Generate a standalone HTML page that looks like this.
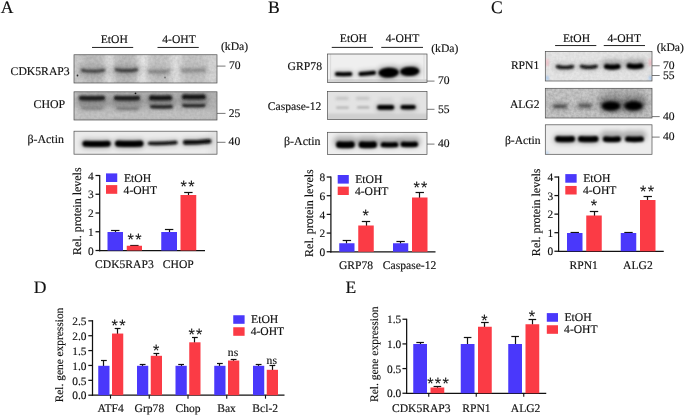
<!DOCTYPE html>
<html><head><meta charset="utf-8"><title>Figure</title>
<style>
html,body{margin:0;padding:0;background:#fff;}
body{width:685px;height:416px;overflow:hidden;}
svg{display:block;font-family:"Liberation Serif",serif;fill:#111;}
text{stroke:#111;stroke-width:0.15px;text-rendering:geometricPrecision;}
</style></head><body>
<svg width="685" height="416" viewBox="0 0 685 416">
<defs>
<filter id="b0_5" filterUnits="userSpaceOnUse" x="0" y="0" width="685" height="416"><feGaussianBlur stdDeviation="0.5"/></filter>
<filter id="b0_7" filterUnits="userSpaceOnUse" x="0" y="0" width="685" height="416"><feGaussianBlur stdDeviation="0.7"/></filter>
<filter id="b1_0" filterUnits="userSpaceOnUse" x="0" y="0" width="685" height="416"><feGaussianBlur stdDeviation="1.0"/></filter>
<filter id="b1_1" filterUnits="userSpaceOnUse" x="0" y="0" width="685" height="416"><feGaussianBlur stdDeviation="1.1"/></filter>
<filter id="b1_2" filterUnits="userSpaceOnUse" x="0" y="0" width="685" height="416"><feGaussianBlur stdDeviation="1.2"/></filter>
<filter id="b1_3" filterUnits="userSpaceOnUse" x="0" y="0" width="685" height="416"><feGaussianBlur stdDeviation="1.3"/></filter>
<filter id="b1_4" filterUnits="userSpaceOnUse" x="0" y="0" width="685" height="416"><feGaussianBlur stdDeviation="1.4"/></filter>
<filter id="b1_5" filterUnits="userSpaceOnUse" x="0" y="0" width="685" height="416"><feGaussianBlur stdDeviation="1.5"/></filter>
<filter id="b1_6" filterUnits="userSpaceOnUse" x="0" y="0" width="685" height="416"><feGaussianBlur stdDeviation="1.6"/></filter>
<filter id="b1_7" filterUnits="userSpaceOnUse" x="0" y="0" width="685" height="416"><feGaussianBlur stdDeviation="1.7"/></filter>
<filter id="b1_8" filterUnits="userSpaceOnUse" x="0" y="0" width="685" height="416"><feGaussianBlur stdDeviation="1.8"/></filter>
<filter id="b2_0" filterUnits="userSpaceOnUse" x="0" y="0" width="685" height="416"><feGaussianBlur stdDeviation="2.0"/></filter>
<filter id="b2_5" filterUnits="userSpaceOnUse" x="0" y="0" width="685" height="416"><feGaussianBlur stdDeviation="2.5"/></filter>
<filter id="b3_0" filterUnits="userSpaceOnUse" x="0" y="0" width="685" height="416"><feGaussianBlur stdDeviation="3.0"/></filter>
<filter id="b4_0" filterUnits="userSpaceOnUse" x="0" y="0" width="685" height="416"><feGaussianBlur stdDeviation="4.0"/></filter>
<filter id="noise" x="0" y="0" width="100%" height="100%"><feTurbulence type="fractalNoise" baseFrequency="0.35" numOctaves="2" seed="3"/><feColorMatrix type="matrix" values="0 0 0 0 0  0 0 0 0 0  0 0 0 0 0  1.6 0 0 0 -0.45"/></filter>
</defs>
<rect x="0" y="0" width="685" height="416" fill="#fff"/>
<text x="0.65" y="12.8" font-size="17.6" text-anchor="start">A</text>
<text x="267.9" y="12.9" font-size="17.6" text-anchor="start">B</text>
<text x="490.9" y="12.9" font-size="17.6" text-anchor="start">C</text>
<text x="33.75" y="292.6" font-size="17.6" text-anchor="start">D</text>
<text x="345.6" y="292.6" font-size="17.6" text-anchor="start">E</text>
<text x="114.25" y="43" font-size="11.6" text-anchor="middle">EtOH</text>
<text x="179" y="43" font-size="11.6" text-anchor="middle">4-OHT</text>
<line x1="92" y1="47.45" x2="133.2" y2="47.45" stroke="#222" stroke-width="1.0"/>
<line x1="157.5" y1="47.45" x2="198.75" y2="47.45" stroke="#222" stroke-width="1.0"/>
<text x="221" y="50" font-size="11.6" text-anchor="start">(kDa)</text>
<text x="10.6" y="74.8" font-size="11.7" text-anchor="start">CDK5RAP3</text>
<text x="33.5" y="108.1" font-size="11.9" text-anchor="start">CHOP</text>
<text x="27.5" y="143.1" font-size="11.9" text-anchor="start">β-Actin</text>
<clipPath id="c1"><rect x="74" y="54.75" width="143" height="28.25"/></clipPath>
<g clip-path="url(#c1)">
<rect x="74" y="54.75" width="143" height="28.25" fill="#cdcdcd"/>
<rect x="105.0" y="50" width="8" height="38" fill="#e4e4e4" opacity="0.95" filter="url(#b3_0)"/><rect x="137.5" y="50" width="10" height="38" fill="#e8e8e8" opacity="1" filter="url(#b3_0)"/><rect x="171.5" y="50" width="9" height="38" fill="#e4e4e4" opacity="0.95" filter="url(#b3_0)"/><rect x="208.0" y="50" width="8" height="38" fill="#dcdcdc" opacity="0.8" filter="url(#b3_0)"/><rect x="83.0" y="50" width="20" height="38" fill="#b4b4b4" opacity="0.6" filter="url(#b3_0)"/><rect x="116.0" y="50" width="20" height="38" fill="#b4b4b4" opacity="0.6" filter="url(#b3_0)"/><rect x="151.0" y="50" width="16" height="38" fill="#bcbcbc" opacity="0.4" filter="url(#b3_0)"/><rect x="184.0" y="50" width="18" height="38" fill="#bcbcbc" opacity="0.4" filter="url(#b3_0)"/><circle cx="77.5" cy="75.5" r="0.9" fill="#333" filter="url(#b0_5)"/><circle cx="165" cy="77.5" r="0.9" fill="#777" filter="url(#b0_5)"/>
<path d="M82.50,70.35 Q93.00,72.30 103.50,70.35" transform="translate(0,0.0)" fill="none" stroke="#3c3c3c" stroke-width="9.0" stroke-linecap="round" opacity="0.266" filter="url(#b2_5)"/>
<path d="M82.50,70.35 Q93.00,72.30 103.50,70.35" fill="none" stroke="#3c3c3c" stroke-width="3.0" stroke-linecap="round" opacity="0.95" filter="url(#b1_1)"/>
<path d="M116.60,69.75 Q126.50,71.70 136.40,69.75" transform="translate(0,0.0)" fill="none" stroke="#383838" stroke-width="9.2" stroke-linecap="round" opacity="0.266" filter="url(#b2_5)"/>
<path d="M116.60,69.75 Q126.50,71.70 136.40,69.75" fill="none" stroke="#383838" stroke-width="3.2" stroke-linecap="round" opacity="0.95" filter="url(#b1_1)"/>
<path d="M149.40,71.20 Q158.75,72.40 168.10,71.20" transform="translate(0,0.0)" fill="none" stroke="#6e6e6e" stroke-width="7.8" stroke-linecap="round" opacity="0.22400000000000003" filter="url(#b2_5)"/>
<path d="M149.40,71.20 Q158.75,72.40 168.10,71.20" fill="none" stroke="#6e6e6e" stroke-width="2.8" stroke-linecap="round" opacity="0.8" filter="url(#b1_5)"/>
<path d="M182.30,70.10 Q193.50,71.00 204.70,70.10" transform="translate(0,0.0)" fill="none" stroke="#767676" stroke-width="7.6" stroke-linecap="round" opacity="0.21000000000000002" filter="url(#b2_5)"/>
<path d="M182.30,70.10 Q193.50,71.00 204.70,70.10" fill="none" stroke="#767676" stroke-width="2.6" stroke-linecap="round" opacity="0.75" filter="url(#b1_5)"/>
<rect x="74" y="54.75" width="143" height="28.25" filter="url(#noise)" opacity="0.09"/>
</g>
<rect x="74" y="54.75" width="143" height="28.25" fill="none" stroke="#4a4a4a" stroke-width="0.7"/>
<clipPath id="c2"><rect x="74" y="91.8" width="143" height="28.200000000000003"/></clipPath>
<g clip-path="url(#c2)">
<rect x="74" y="91.8" width="143" height="28.2" fill="#b4b4b4"/>
<rect x="74" y="111" width="143" height="9" fill="#cfcfcf" opacity="0.7" filter="url(#b3_0)"/><rect x="72.5" y="88" width="5" height="36" fill="#d8d8d8" opacity="0.8" filter="url(#b3_0)"/><circle cx="135.5" cy="93.3" r="0.9" fill="#111"/>
<path d="M81.30,98.05 Q92.00,98.50 102.70,98.05" transform="translate(0,2.5)" fill="none" stroke="#1a1a1a" stroke-width="10.6" stroke-linecap="round" opacity="0.28" filter="url(#b2_5)"/>
<path d="M81.30,98.05 Q92.00,98.50 102.70,98.05" fill="none" stroke="#1a1a1a" stroke-width="4.6" stroke-linecap="round" opacity="1" filter="url(#b1_2)"/>
<path d="M116.30,98.05 Q127.00,98.50 137.70,98.05" transform="translate(0,2.5)" fill="none" stroke="#1a1a1a" stroke-width="10.6" stroke-linecap="round" opacity="0.28" filter="url(#b2_5)"/>
<path d="M116.30,98.05 Q127.00,98.50 137.70,98.05" fill="none" stroke="#1a1a1a" stroke-width="4.6" stroke-linecap="round" opacity="1" filter="url(#b1_2)"/>
<path d="M151.50,97.85 Q160.50,98.30 169.50,97.85" transform="translate(0,3)" fill="none" stroke="#141414" stroke-width="11.0" stroke-linecap="round" opacity="0.28" filter="url(#b2_5)"/>
<path d="M151.50,97.85 Q160.50,98.30 169.50,97.85" fill="none" stroke="#141414" stroke-width="5.0" stroke-linecap="round" opacity="1" filter="url(#b1_2)"/>
<path d="M184.50,96.85 Q193.85,97.30 203.20,96.85" transform="translate(0,3)" fill="none" stroke="#141414" stroke-width="11.0" stroke-linecap="round" opacity="0.28" filter="url(#b2_5)"/>
<path d="M184.50,96.85 Q193.85,97.30 203.20,96.85" fill="none" stroke="#141414" stroke-width="5.0" stroke-linecap="round" opacity="1" filter="url(#b1_2)"/>
<path d="M82.30,108.20 Q92.00,108.20 101.70,108.20" fill="none" stroke="#6a6a6a" stroke-width="2.6" stroke-linecap="round" opacity="0.75" filter="url(#b1_4)"/>
<path d="M117.40,108.60 Q127.50,108.60 137.60,108.60" fill="none" stroke="#606060" stroke-width="2.8" stroke-linecap="round" opacity="0.8" filter="url(#b1_4)"/>
<path d="M151.80,106.65 Q161.50,107.10 171.20,106.65" fill="none" stroke="#2a2a2a" stroke-width="3.6" stroke-linecap="round" opacity="1" filter="url(#b1_2)"/>
<path d="M183.80,105.45 Q193.85,105.90 203.90,105.45" fill="none" stroke="#2a2a2a" stroke-width="3.6" stroke-linecap="round" opacity="1" filter="url(#b1_2)"/>
<rect x="74" y="91.8" width="143" height="28.200000000000003" filter="url(#noise)" opacity="0.08"/>
</g>
<rect x="74" y="91.8" width="143" height="28.200000000000003" fill="none" stroke="#4a4a4a" stroke-width="0.7"/>
<clipPath id="c3"><rect x="74" y="131.2" width="143" height="23.0"/></clipPath>
<g clip-path="url(#c3)">
<rect x="74" y="131.2" width="143" height="23.0" fill="#ebebeb"/>
<rect x="211.0" y="126" width="6" height="34" fill="#d9d9d9" opacity="0.8" filter="url(#b3_0)"/>
<path d="M85.40,143.65 Q96.55,144.10 107.70,143.65" transform="translate(0,0.0)" fill="none" stroke="#030303" stroke-width="9.0" stroke-linecap="round" opacity="0.28" filter="url(#b2_5)"/>
<path d="M85.40,143.65 Q96.55,144.10 107.70,143.65" fill="none" stroke="#030303" stroke-width="6.0" stroke-linecap="round" opacity="1" filter="url(#b1_2)"/>
<path d="M118.10,143.65 Q129.25,144.10 140.40,143.65" transform="translate(0,0.0)" fill="none" stroke="#030303" stroke-width="9.2" stroke-linecap="round" opacity="0.28" filter="url(#b2_5)"/>
<path d="M118.10,143.65 Q129.25,144.10 140.40,143.65" fill="none" stroke="#030303" stroke-width="6.2" stroke-linecap="round" opacity="1" filter="url(#b1_2)"/>
<path d="M149.70,143.35 Q162.75,143.70 175.80,142.55" transform="translate(0,0.0)" fill="none" stroke="#0a0a0a" stroke-width="5.4" stroke-linecap="round" opacity="0.28" filter="url(#b2_5)"/>
<path d="M149.70,143.35 Q162.75,143.70 175.80,142.55" fill="none" stroke="#0a0a0a" stroke-width="3.4" stroke-linecap="round" opacity="1" filter="url(#b1_1)"/>
<path d="M185.30,142.40 Q197.20,142.40 209.10,141.20" transform="translate(0,0.0)" fill="none" stroke="#080808" stroke-width="6.6" stroke-linecap="round" opacity="0.28" filter="url(#b2_5)"/>
<path d="M185.30,142.40 Q197.20,142.40 209.10,141.20" fill="none" stroke="#080808" stroke-width="4.6" stroke-linecap="round" opacity="1" filter="url(#b1_1)"/>
</g>
<rect x="74" y="131.2" width="143" height="23.0" fill="none" stroke="#4a4a4a" stroke-width="0.7"/>
<line x1="217" y1="66.1" x2="225.5" y2="66.1" stroke="#555" stroke-width="0.8"/>
<text x="229" y="68.9" font-size="11.6" text-anchor="start">70</text>
<line x1="217" y1="113.4" x2="225.5" y2="113.4" stroke="#555" stroke-width="0.8"/>
<text x="228.8" y="116.6" font-size="11.6" text-anchor="start">25</text>
<line x1="217" y1="142.3" x2="225.5" y2="142.3" stroke="#555" stroke-width="0.8"/>
<text x="228.6" y="145.3" font-size="11.6" text-anchor="start">40</text>
<line x1="99.7" y1="174.875" x2="99.7" y2="251.125" stroke="#111" stroke-width="1.25"/>
<line x1="99.075" y1="250.5" x2="205" y2="250.5" stroke="#111" stroke-width="1.25"/>
<line x1="95.5" y1="250.5" x2="99.7" y2="250.5" stroke="#111" stroke-width="1.25"/>
<text x="93.7" y="254.7" font-size="11.4" text-anchor="end">0</text>
<line x1="95.5" y1="231.75" x2="99.7" y2="231.75" stroke="#111" stroke-width="1.25"/>
<text x="93.7" y="235.95" font-size="11.4" text-anchor="end">1</text>
<line x1="95.5" y1="213.0" x2="99.7" y2="213.0" stroke="#111" stroke-width="1.25"/>
<text x="93.7" y="217.2" font-size="11.4" text-anchor="end">2</text>
<line x1="95.5" y1="194.25" x2="99.7" y2="194.25" stroke="#111" stroke-width="1.25"/>
<text x="93.7" y="198.45" font-size="11.4" text-anchor="end">3</text>
<line x1="95.5" y1="175.5" x2="99.7" y2="175.5" stroke="#111" stroke-width="1.25"/>
<text x="93.7" y="179.7" font-size="11.4" text-anchor="end">4</text>
<line x1="115.5" y1="230.5" x2="115.5" y2="232.5" stroke="#111" stroke-width="1.2"/>
<line x1="111.05" y1="230.5" x2="119.45" y2="230.5" stroke="#111" stroke-width="1.2"/>
<rect x="107.5" y="232" width="15.5" height="18.5" fill="#4a38fb"/>
<line x1="134.5" y1="245.5" x2="134.5" y2="246.25" stroke="#111" stroke-width="1.2"/>
<line x1="130.175" y1="245.5" x2="138.575" y2="245.5" stroke="#111" stroke-width="1.2"/>
<rect x="126.75" y="245.75" width="15.25" height="4.75" fill="#fb3b45"/>
<line x1="169.5" y1="229.5" x2="169.5" y2="232.5" stroke="#111" stroke-width="1.2"/>
<line x1="164.925" y1="229.5" x2="173.325" y2="229.5" stroke="#111" stroke-width="1.2"/>
<rect x="161.25" y="232" width="15.75" height="18.5" fill="#4a38fb"/>
<line x1="188.5" y1="192.5" x2="188.5" y2="195.5" stroke="#111" stroke-width="1.2"/>
<line x1="184.175" y1="192.5" x2="192.575" y2="192.5" stroke="#111" stroke-width="1.2"/>
<rect x="180.5" y="195" width="15.75" height="55.5" fill="#fb3b45"/>
<rect x="106" y="173.4" width="11.25" height="8.6" fill="#4a38fb"/>
<rect x="106" y="185.1" width="11.25" height="8.7" fill="#fb3b45"/>
<text x="123.9" y="181.9" font-size="11.7" text-anchor="start">EtOH</text>
<text x="123.60000000000001" y="193.5" font-size="11.6" text-anchor="start">4-OHT</text>
<text x="135.29999999999998" y="244.5" font-size="16.2" letter-spacing="1.4" text-anchor="middle" font-family="Liberation Sans, sans-serif" style="stroke-width:0.1px">**</text>
<text x="188.2" y="192.0" font-size="16.2" letter-spacing="1.4" text-anchor="middle" font-family="Liberation Sans, sans-serif" style="stroke-width:0.1px">**</text>
<text transform="translate(81,211.2) rotate(-90)" font-size="12.0" text-anchor="middle">Rel. protein levels</text>
<text x="124.4" y="267.5" font-size="11.6" text-anchor="middle">CDK5RAP3</text>
<text x="178.25" y="267.5" font-size="11.6" text-anchor="middle">CHOP</text>
<text x="353.4" y="42" font-size="11.6" text-anchor="middle">EtOH</text>
<text x="402.5" y="42" font-size="11.6" text-anchor="middle">4-OHT</text>
<line x1="331.75" y1="47.4" x2="373" y2="47.4" stroke="#222" stroke-width="1.0"/>
<line x1="381.25" y1="47.4" x2="423" y2="47.4" stroke="#222" stroke-width="1.0"/>
<text x="431.25" y="51.7" font-size="11.6" text-anchor="start">(kDa)</text>
<text x="322" y="69.9" font-size="11.7" text-anchor="end">GRP78</text>
<text x="321.25" y="110" font-size="11.6" text-anchor="end">Caspase-12</text>
<text x="320.5" y="144.5" font-size="11.9" text-anchor="end">β-Actin</text>
<clipPath id="c4"><rect x="327.5" y="54" width="99.5" height="28.400000000000006"/></clipPath>
<g clip-path="url(#c4)">
<rect x="327.5" y="54" width="99.5" height="28.4" fill="#efefef"/>
<rect x="327.5" y="79.3" width="100" height="3.5" fill="#d4d4d4" filter="url(#b0_7)"/><rect x="330.3" y="54" width="0.8" height="26" fill="#d6d6d6"/><rect x="423.6" y="54" width="0.8" height="26" fill="#d6d6d6"/>
<path d="M337.00,74.10 Q343.65,74.40 350.30,74.10" transform="translate(0,0.0)" fill="none" stroke="#050505" stroke-width="6.0" stroke-linecap="round" opacity="0.28" filter="url(#b2_5)"/>
<path d="M337.00,74.10 Q343.65,74.40 350.30,74.10" fill="none" stroke="#050505" stroke-width="4.0" stroke-linecap="round" opacity="1" filter="url(#b1_0)"/>
<path d="M360.50,73.90 Q367.25,73.60 374.00,72.70" transform="translate(0,0.0)" fill="none" stroke="#050505" stroke-width="6.0" stroke-linecap="round" opacity="0.28" filter="url(#b2_5)"/>
<path d="M360.50,73.90 Q367.25,73.60 374.00,72.70" fill="none" stroke="#050505" stroke-width="4.0" stroke-linecap="round" opacity="1" filter="url(#b1_0)"/>
<path d="M383.50,72.90 Q388.65,72.80 393.80,72.10" transform="translate(0,0)" fill="none" stroke="#000" stroke-width="13.4" stroke-linecap="round" opacity="0.28" filter="url(#b2_5)"/>
<ellipse cx="388.65" cy="72.6" rx="10.35" ry="5.2" transform="rotate(-2.21 388.65 72.6)" fill="#000" opacity="1" filter="url(#b1_0)"/>
<path d="M404.70,71.70 Q409.75,71.60 414.80,70.90" transform="translate(0,0)" fill="none" stroke="#000" stroke-width="12.4" stroke-linecap="round" opacity="0.28" filter="url(#b2_5)"/>
<ellipse cx="409.75" cy="71.4" rx="9.75" ry="4.7" transform="rotate(-2.35 409.75 71.4)" fill="#000" opacity="1" filter="url(#b1_0)"/>
</g>
<rect x="327.5" y="54" width="99.5" height="28.400000000000006" fill="none" stroke="#4a4a4a" stroke-width="0.7"/>
<clipPath id="c5"><rect x="327.5" y="91.4" width="99.5" height="28.0"/></clipPath>
<g clip-path="url(#c5)">
<rect x="327.5" y="91.4" width="99.5" height="28.0" fill="#e3e3e3"/>
<rect x="327.5" y="113.5" width="100" height="7" fill="#cfcfcf" filter="url(#b1_0)"/>
<path d="M336.90,98.40 Q342.10,98.40 347.30,98.40" fill="none" stroke="#9a9a9a" stroke-width="2.4" stroke-linecap="round" opacity="0.6" filter="url(#b1_4)"/>
<path d="M357.20,98.40 Q362.75,98.40 368.30,98.40" fill="none" stroke="#9a9a9a" stroke-width="2.4" stroke-linecap="round" opacity="0.6" filter="url(#b1_4)"/>
<path d="M380.10,99.00 Q386.00,99.00 391.90,99.00" fill="none" stroke="#b8b8b8" stroke-width="2.2" stroke-linecap="round" opacity="0.5" filter="url(#b1_5)"/>
<path d="M402.10,99.00 Q408.00,99.00 413.90,99.00" fill="none" stroke="#b8b8b8" stroke-width="2.2" stroke-linecap="round" opacity="0.5" filter="url(#b1_5)"/>
<path d="M337.20,107.60 Q342.50,107.60 347.80,107.60" fill="none" stroke="#a0a0a0" stroke-width="2.4" stroke-linecap="round" opacity="0.7" filter="url(#b1_3)"/>
<path d="M358.20,107.40 Q363.25,107.40 368.30,107.40" fill="none" stroke="#9a9a9a" stroke-width="2.4" stroke-linecap="round" opacity="0.75" filter="url(#b1_3)"/>
<path d="M379.40,107.30 Q385.65,107.60 391.90,107.30" transform="translate(0,0.0)" fill="none" stroke="#030303" stroke-width="6.8" stroke-linecap="round" opacity="0.28" filter="url(#b2_5)"/>
<path d="M379.40,107.30 Q385.65,107.60 391.90,107.30" fill="none" stroke="#030303" stroke-width="4.8" stroke-linecap="round" opacity="1" filter="url(#b1_0)"/>
<path d="M402.70,107.10 Q408.15,107.40 413.60,107.10" transform="translate(0,0.0)" fill="none" stroke="#030303" stroke-width="6.4" stroke-linecap="round" opacity="0.28" filter="url(#b2_5)"/>
<path d="M402.70,107.10 Q408.15,107.40 413.60,107.10" fill="none" stroke="#030303" stroke-width="4.4" stroke-linecap="round" opacity="1" filter="url(#b1_0)"/>
</g>
<rect x="327.5" y="91.4" width="99.5" height="28.0" fill="none" stroke="#4a4a4a" stroke-width="0.7"/>
<clipPath id="c6"><rect x="327.5" y="132.3" width="99.5" height="22.099999999999994"/></clipPath>
<g clip-path="url(#c6)">
<rect x="327.5" y="132.3" width="99.5" height="22.1" fill="#eeeeee"/>

<path d="M339.30,144.65 Q345.40,145.10 351.50,144.65" transform="translate(0,-2.5)" fill="none" stroke="#030303" stroke-width="11.6" stroke-linecap="round" opacity="0.28" filter="url(#b2_5)"/>
<path d="M339.30,144.65 Q345.40,145.10 351.50,144.65" fill="none" stroke="#030303" stroke-width="6.6" stroke-linecap="round" opacity="1" filter="url(#b1_2)"/>
<path d="M361.90,144.65 Q367.80,145.10 373.70,144.65" transform="translate(0,-2.5)" fill="none" stroke="#030303" stroke-width="11.6" stroke-linecap="round" opacity="0.28" filter="url(#b2_5)"/>
<path d="M361.90,144.65 Q367.80,145.10 373.70,144.65" fill="none" stroke="#030303" stroke-width="6.6" stroke-linecap="round" opacity="1" filter="url(#b1_2)"/>
<path d="M383.30,144.65 Q389.50,145.10 395.70,144.65" transform="translate(0,-2.5)" fill="none" stroke="#030303" stroke-width="10.4" stroke-linecap="round" opacity="0.28" filter="url(#b2_5)"/>
<path d="M383.30,144.65 Q389.50,145.10 395.70,144.65" fill="none" stroke="#030303" stroke-width="5.4" stroke-linecap="round" opacity="1" filter="url(#b1_2)"/>
<path d="M403.20,144.25 Q409.35,144.70 415.50,144.25" transform="translate(0,-2.5)" fill="none" stroke="#030303" stroke-width="10.4" stroke-linecap="round" opacity="0.28" filter="url(#b2_5)"/>
<path d="M403.20,144.25 Q409.35,144.70 415.50,144.25" fill="none" stroke="#030303" stroke-width="5.4" stroke-linecap="round" opacity="1" filter="url(#b1_2)"/>
</g>
<rect x="327.5" y="132.3" width="99.5" height="22.099999999999994" fill="none" stroke="#4a4a4a" stroke-width="0.7"/>
<line x1="427" y1="81.1" x2="434.5" y2="81.1" stroke="#555" stroke-width="0.8"/>
<text x="438" y="83.7" font-size="11.6" text-anchor="start">70</text>
<line x1="427" y1="109.3" x2="434.5" y2="109.3" stroke="#555" stroke-width="0.8"/>
<text x="438" y="113" font-size="11.6" text-anchor="start">55</text>
<line x1="427" y1="144.1" x2="434.5" y2="144.1" stroke="#555" stroke-width="0.8"/>
<text x="438" y="147" font-size="11.6" text-anchor="start">40</text>
<line x1="330.9" y1="176.375" x2="330.9" y2="252.375" stroke="#111" stroke-width="1.25"/>
<line x1="330.275" y1="251.75" x2="435.5" y2="251.75" stroke="#111" stroke-width="1.25"/>
<line x1="326.7" y1="251.75" x2="330.9" y2="251.75" stroke="#111" stroke-width="1.25"/>
<text x="325.3" y="255.95" font-size="11.4" text-anchor="end">0</text>
<line x1="326.7" y1="233.07" x2="330.9" y2="233.07" stroke="#111" stroke-width="1.25"/>
<text x="325.3" y="237.26999999999998" font-size="11.4" text-anchor="end">2</text>
<line x1="326.7" y1="214.39" x2="330.9" y2="214.39" stroke="#111" stroke-width="1.25"/>
<text x="325.3" y="218.58999999999997" font-size="11.4" text-anchor="end">4</text>
<line x1="326.7" y1="195.71" x2="330.9" y2="195.71" stroke="#111" stroke-width="1.25"/>
<text x="325.3" y="199.91" font-size="11.4" text-anchor="end">6</text>
<line x1="326.7" y1="177.03" x2="330.9" y2="177.03" stroke="#111" stroke-width="1.25"/>
<text x="325.3" y="181.23" font-size="11.4" text-anchor="end">8</text>
<line x1="346.5" y1="240.5" x2="346.5" y2="243.75" stroke="#111" stroke-width="1.2"/>
<line x1="342.675" y1="240.5" x2="351.075" y2="240.5" stroke="#111" stroke-width="1.2"/>
<rect x="339.25" y="243.25" width="15.25" height="8.5" fill="#4a38fb"/>
<line x1="366.5" y1="221.5" x2="366.5" y2="226.0" stroke="#111" stroke-width="1.2"/>
<line x1="361.8" y1="221.5" x2="370.2" y2="221.5" stroke="#111" stroke-width="1.2"/>
<rect x="358.25" y="225.5" width="15.5" height="26.25" fill="#fb3b45"/>
<line x1="400.5" y1="241.5" x2="400.5" y2="243.75" stroke="#111" stroke-width="1.2"/>
<line x1="396.425" y1="241.5" x2="404.825" y2="241.5" stroke="#111" stroke-width="1.2"/>
<rect x="393" y="243.25" width="15.25" height="8.5" fill="#4a38fb"/>
<line x1="419.5" y1="192.5" x2="419.5" y2="198.0" stroke="#111" stroke-width="1.2"/>
<line x1="415.55" y1="192.5" x2="423.95" y2="192.5" stroke="#111" stroke-width="1.2"/>
<rect x="412" y="197.5" width="15.5" height="54.25" fill="#fb3b45"/>
<rect x="337.7" y="175" width="11.1" height="8.6" fill="#4a38fb"/>
<rect x="337.7" y="186.65" width="11.1" height="8.35" fill="#fb3b45"/>
<text x="355.2" y="182.8" font-size="11.7" text-anchor="start">EtOH</text>
<text x="354.9" y="194.5" font-size="11.6" text-anchor="start">4-OHT</text>
<text x="366.45" y="221.2" font-size="16.2" letter-spacing="1.4" text-anchor="middle" font-family="Liberation Sans, sans-serif" style="stroke-width:0.1px">*</text>
<text x="421.09999999999997" y="192.5" font-size="16.2" letter-spacing="1.4" text-anchor="middle" font-family="Liberation Sans, sans-serif" style="stroke-width:0.1px">**</text>
<text transform="translate(313,213.1) rotate(-90)" font-size="12.0" text-anchor="middle">Rel. protein levels</text>
<text x="356" y="268.9" font-size="11.6" text-anchor="middle">GRP78</text>
<text x="409.6" y="268.9" font-size="11.6" text-anchor="middle">Caspase-12</text>
<text x="576.5" y="41.8" font-size="11.6" text-anchor="middle">EtOH</text>
<text x="624.25" y="41.8" font-size="11.6" text-anchor="middle">4-OHT</text>
<line x1="555.1" y1="45.55" x2="596.3" y2="45.55" stroke="#222" stroke-width="1.0"/>
<line x1="603.75" y1="45.55" x2="645" y2="45.55" stroke="#222" stroke-width="1.0"/>
<text x="656.75" y="50.5" font-size="11.6" text-anchor="start">(kDa)</text>
<text x="539.25" y="68.9" font-size="11.6" text-anchor="end">RPN1</text>
<text x="539.5" y="108.3" font-size="11.6" text-anchor="end">ALG2</text>
<text x="540.5" y="143.75" font-size="11.6" text-anchor="end">β-Actin</text>
<clipPath id="c7"><rect x="545.3" y="51.4" width="106.70000000000005" height="29.6"/></clipPath>
<g clip-path="url(#c7)">
<rect x="545.3" y="51.4" width="106.7" height="29.6" fill="#e6e6e6"/>
<rect x="545.5" y="59" width="3.2" height="7" fill="#f5a9b4" opacity="0.6" filter="url(#b1_0)"/><rect x="648.8" y="59" width="3.2" height="7" fill="#f5a9b4" opacity="0.6" filter="url(#b1_0)"/><rect x="545.5" y="76" width="3.2" height="4.5" fill="#9cc4f2" opacity="0.75" filter="url(#b1_0)"/><rect x="648.8" y="76" width="3.2" height="4.5" fill="#9cc4f2" opacity="0.75" filter="url(#b1_0)"/>
<path d="M557.60,66.60 Q565.00,68.40 572.40,66.60" transform="translate(0,0.0)" fill="none" stroke="#080808" stroke-width="5.6" stroke-linecap="round" opacity="0.28" filter="url(#b2_5)"/>
<path d="M557.60,66.60 Q565.00,68.40 572.40,66.60" fill="none" stroke="#080808" stroke-width="3.2" stroke-linecap="round" opacity="1" filter="url(#b1_0)"/>
<path d="M581.60,66.40 Q588.85,68.20 596.10,66.40" transform="translate(0,0.0)" fill="none" stroke="#080808" stroke-width="5.6" stroke-linecap="round" opacity="0.28" filter="url(#b2_5)"/>
<path d="M581.60,66.40 Q588.85,68.20 596.10,66.40" fill="none" stroke="#080808" stroke-width="3.2" stroke-linecap="round" opacity="1" filter="url(#b1_0)"/>
<path d="M606.50,66.45 Q612.25,67.80 618.00,66.45" transform="translate(0,-2)" fill="none" stroke="#030303" stroke-width="10.0" stroke-linecap="round" opacity="0.28" filter="url(#b2_5)"/>
<path d="M606.50,66.45 Q612.25,67.80 618.00,66.45" fill="none" stroke="#030303" stroke-width="5.0" stroke-linecap="round" opacity="1" filter="url(#b1_1)"/>
<path d="M629.20,65.95 Q635.10,67.30 641.00,65.95" transform="translate(0,-2)" fill="none" stroke="#030303" stroke-width="10.4" stroke-linecap="round" opacity="0.28" filter="url(#b2_5)"/>
<path d="M629.20,65.95 Q635.10,67.30 641.00,65.95" fill="none" stroke="#030303" stroke-width="5.4" stroke-linecap="round" opacity="1" filter="url(#b1_1)"/>
<rect x="545.3" y="51.4" width="106.70000000000005" height="29.6" filter="url(#noise)" opacity="0.06"/>
</g>
<rect x="545.3" y="51.4" width="106.70000000000005" height="29.6" fill="none" stroke="#4a4a4a" stroke-width="0.7"/>
<clipPath id="c8"><rect x="545.3" y="88.3" width="106.70000000000005" height="29.700000000000003"/></clipPath>
<g clip-path="url(#c8)">
<rect x="545.3" y="88.3" width="106.7" height="29.7" fill="#c9c9c9"/>
<ellipse cx="623" cy="100" rx="26" ry="13" fill="#a8a8a8" opacity="0.7" filter="url(#b3_0)"/>
<path d="M554.80,106.30 Q560.00,106.30 565.20,106.30" transform="translate(0,0.0)" fill="none" stroke="#404040" stroke-width="8.6" stroke-linecap="round" opacity="0.23800000000000002" filter="url(#b2_5)"/>
<path d="M554.80,106.30 Q560.00,106.30 565.20,106.30" fill="none" stroke="#404040" stroke-width="3.6" stroke-linecap="round" opacity="0.85" filter="url(#b1_6)"/>
<path d="M579.80,105.60 Q584.85,105.60 589.90,105.60" transform="translate(0,0.0)" fill="none" stroke="#444444" stroke-width="8.6" stroke-linecap="round" opacity="0.22400000000000003" filter="url(#b2_5)"/>
<path d="M579.80,105.60 Q584.85,105.60 589.90,105.60" fill="none" stroke="#444444" stroke-width="3.6" stroke-linecap="round" opacity="0.8" filter="url(#b1_6)"/>
<path d="M606.30,105.85 Q611.00,106.30 615.70,105.85" transform="translate(0,-1)" fill="none" stroke="#000" stroke-width="16.6" stroke-linecap="round" opacity="0.28" filter="url(#b2_5)"/>
<ellipse cx="611.00" cy="106.0" rx="9.50" ry="4.8" transform="rotate(-0.00 611.00 106.0)" fill="#000" opacity="1" filter="url(#b1_5)"/>
<path d="M628.80,105.65 Q633.50,106.10 638.20,105.65" transform="translate(0,-1)" fill="none" stroke="#000" stroke-width="16.6" stroke-linecap="round" opacity="0.28" filter="url(#b2_5)"/>
<ellipse cx="633.50" cy="105.8" rx="9.50" ry="4.8" transform="rotate(-0.00 633.50 105.8)" fill="#000" opacity="1" filter="url(#b1_5)"/>
<rect x="545.3" y="88.3" width="106.70000000000005" height="29.700000000000003" filter="url(#noise)" opacity="0.16"/>
</g>
<rect x="545.3" y="88.3" width="106.70000000000005" height="29.700000000000003" fill="none" stroke="#4a4a4a" stroke-width="0.7"/>
<clipPath id="c9"><rect x="545.3" y="124.8" width="106.70000000000005" height="29.500000000000014"/></clipPath>
<g clip-path="url(#c9)">
<rect x="545.3" y="124.8" width="106.7" height="29.5" fill="#ededed"/>
<rect x="545.5" y="151.5" width="3" height="3" fill="#b8d4f4" filter="url(#b1_0)"/>
<path d="M558.00,139.05 Q565.00,139.50 572.00,139.05" transform="translate(0,0.0)" fill="none" stroke="#030303" stroke-width="9.0" stroke-linecap="round" opacity="0.28" filter="url(#b2_5)"/>
<path d="M558.00,139.05 Q565.00,139.50 572.00,139.05" fill="none" stroke="#030303" stroke-width="6.0" stroke-linecap="round" opacity="1" filter="url(#b1_2)"/>
<path d="M581.00,139.05 Q588.25,139.50 595.50,139.05" transform="translate(0,0.0)" fill="none" stroke="#030303" stroke-width="9.0" stroke-linecap="round" opacity="0.28" filter="url(#b2_5)"/>
<path d="M581.00,139.05 Q588.25,139.50 595.50,139.05" fill="none" stroke="#030303" stroke-width="6.0" stroke-linecap="round" opacity="1" filter="url(#b1_2)"/>
<path d="M605.60,139.15 Q611.90,139.90 618.20,139.15" transform="translate(0,-3)" fill="none" stroke="#030303" stroke-width="10.6" stroke-linecap="round" opacity="0.28" filter="url(#b2_5)"/>
<path d="M605.60,139.15 Q611.90,139.90 618.20,139.15" fill="none" stroke="#030303" stroke-width="5.6" stroke-linecap="round" opacity="1" filter="url(#b1_2)"/>
<path d="M627.80,138.95 Q634.50,139.70 641.20,138.95" transform="translate(0,-3)" fill="none" stroke="#030303" stroke-width="10.6" stroke-linecap="round" opacity="0.28" filter="url(#b2_5)"/>
<path d="M627.80,138.95 Q634.50,139.70 641.20,138.95" fill="none" stroke="#030303" stroke-width="5.6" stroke-linecap="round" opacity="1" filter="url(#b1_2)"/>
</g>
<rect x="545.3" y="124.8" width="106.70000000000005" height="29.500000000000014" fill="none" stroke="#4a4a4a" stroke-width="0.7"/>
<line x1="652" y1="65.75" x2="659.7" y2="65.75" stroke="#555" stroke-width="0.8"/>
<text x="663" y="68.6" font-size="11.6" text-anchor="start">70</text>
<line x1="652" y1="75.5" x2="659.7" y2="75.5" stroke="#555" stroke-width="0.8"/>
<text x="663" y="78.9" font-size="11.6" text-anchor="start">55</text>
<line x1="652" y1="116.6" x2="659.7" y2="116.6" stroke="#555" stroke-width="0.8"/>
<text x="663" y="120" font-size="11.6" text-anchor="start">40</text>
<line x1="652" y1="137.1" x2="659.7" y2="137.1" stroke="#555" stroke-width="0.8"/>
<text x="663" y="140.2" font-size="11.6" text-anchor="start">40</text>
<line x1="558.6" y1="176.375" x2="558.6" y2="251.875" stroke="#111" stroke-width="1.25"/>
<line x1="557.975" y1="251.25" x2="663.75" y2="251.25" stroke="#111" stroke-width="1.25"/>
<line x1="554.4" y1="251.25" x2="558.6" y2="251.25" stroke="#111" stroke-width="1.25"/>
<text x="553.2" y="255.45" font-size="11.4" text-anchor="end">0</text>
<line x1="554.4" y1="232.69" x2="558.6" y2="232.69" stroke="#111" stroke-width="1.25"/>
<text x="553.2" y="236.89" font-size="11.4" text-anchor="end">1</text>
<line x1="554.4" y1="214.13" x2="558.6" y2="214.13" stroke="#111" stroke-width="1.25"/>
<text x="553.2" y="218.32999999999998" font-size="11.4" text-anchor="end">2</text>
<line x1="554.4" y1="195.57" x2="558.6" y2="195.57" stroke="#111" stroke-width="1.25"/>
<text x="553.2" y="199.76999999999998" font-size="11.4" text-anchor="end">3</text>
<line x1="554.4" y1="177.01" x2="558.6" y2="177.01" stroke="#111" stroke-width="1.25"/>
<text x="553.2" y="181.20999999999998" font-size="11.4" text-anchor="end">4</text>
<line x1="574.5" y1="232.5" x2="574.5" y2="233.5" stroke="#111" stroke-width="1.2"/>
<line x1="570.55" y1="232.5" x2="578.95" y2="232.5" stroke="#111" stroke-width="1.2"/>
<rect x="567" y="233" width="15.5" height="18.25" fill="#4a38fb"/>
<line x1="594.5" y1="211.5" x2="594.5" y2="216.0" stroke="#111" stroke-width="1.2"/>
<line x1="589.8" y1="211.5" x2="598.2" y2="211.5" stroke="#111" stroke-width="1.2"/>
<rect x="586.25" y="215.5" width="15.5" height="35.75" fill="#fb3b45"/>
<line x1="628.5" y1="232.5" x2="628.5" y2="233.5" stroke="#111" stroke-width="1.2"/>
<line x1="624.3" y1="232.5" x2="632.7" y2="232.5" stroke="#111" stroke-width="1.2"/>
<rect x="620.75" y="233" width="15.5" height="18.25" fill="#4a38fb"/>
<line x1="647.5" y1="196.5" x2="647.5" y2="200.5" stroke="#111" stroke-width="1.2"/>
<line x1="643.55" y1="196.5" x2="651.95" y2="196.5" stroke="#111" stroke-width="1.2"/>
<rect x="640" y="200" width="15.5" height="51.25" fill="#fb3b45"/>
<rect x="565.3" y="174.1" width="11.35" height="8.6" fill="#4a38fb"/>
<rect x="565.3" y="185.95" width="11.35" height="8.55" fill="#fb3b45"/>
<text x="583.2" y="182.3" font-size="11.7" text-anchor="start">EtOH</text>
<text x="582.9000000000001" y="194" font-size="11.6" text-anchor="start">4-OHT</text>
<text x="594.7" y="211.2" font-size="16.2" letter-spacing="1.4" text-anchor="middle" font-family="Liberation Sans, sans-serif" style="stroke-width:0.1px">*</text>
<text x="647.7" y="197.0" font-size="16.2" letter-spacing="1.4" text-anchor="middle" font-family="Liberation Sans, sans-serif" style="stroke-width:0.1px">**</text>
<text transform="translate(540,212.3) rotate(-90)" font-size="12.0" text-anchor="middle">Rel. protein levels</text>
<text x="583.75" y="268.75" font-size="11.6" text-anchor="middle">RPN1</text>
<text x="637.9" y="268.75" font-size="11.6" text-anchor="middle">ALG2</text>
<line x1="92.5" y1="320.125" x2="92.5" y2="395.825" stroke="#111" stroke-width="1.25"/>
<line x1="91.875" y1="395.2" x2="284.5" y2="395.2" stroke="#111" stroke-width="1.25"/>
<line x1="88.3" y1="395.2" x2="92.5" y2="395.2" stroke="#111" stroke-width="1.25"/>
<text x="86.5" y="399.4" font-size="11.4" text-anchor="end">0.0</text>
<line x1="88.3" y1="380.33" x2="92.5" y2="380.33" stroke="#111" stroke-width="1.25"/>
<text x="86.5" y="384.53" font-size="11.4" text-anchor="end">0.5</text>
<line x1="88.3" y1="365.46" x2="92.5" y2="365.46" stroke="#111" stroke-width="1.25"/>
<text x="86.5" y="369.65999999999997" font-size="11.4" text-anchor="end">1.0</text>
<line x1="88.3" y1="350.59" x2="92.5" y2="350.59" stroke="#111" stroke-width="1.25"/>
<text x="86.5" y="354.78999999999996" font-size="11.4" text-anchor="end">1.5</text>
<line x1="88.3" y1="335.71999999999997" x2="92.5" y2="335.71999999999997" stroke="#111" stroke-width="1.25"/>
<text x="86.5" y="339.91999999999996" font-size="11.4" text-anchor="end">2.0</text>
<line x1="88.3" y1="320.85" x2="92.5" y2="320.85" stroke="#111" stroke-width="1.25"/>
<text x="86.5" y="325.05" font-size="11.4" text-anchor="end">2.5</text>
<line x1="110.5" y1="395.2" x2="110.5" y2="398.7" stroke="#111" stroke-width="1.1"/>
<line x1="149.25" y1="395.2" x2="149.25" y2="398.7" stroke="#111" stroke-width="1.1"/>
<line x1="188" y1="395.2" x2="188" y2="398.7" stroke="#111" stroke-width="1.1"/>
<line x1="226.75" y1="395.2" x2="226.75" y2="398.7" stroke="#111" stroke-width="1.1"/>
<line x1="265.5" y1="395.2" x2="265.5" y2="398.7" stroke="#111" stroke-width="1.1"/>
<line x1="103.5" y1="360.5" x2="103.5" y2="366.3" stroke="#111" stroke-width="1.2"/>
<line x1="100.975" y1="360.5" x2="106.775" y2="360.5" stroke="#111" stroke-width="1.2"/>
<rect x="98.25" y="365.8" width="11.25" height="29.4" fill="#4a38fb"/>
<line x1="117.5" y1="328.5" x2="117.5" y2="334.05" stroke="#111" stroke-width="1.2"/>
<line x1="114.725" y1="328.5" x2="120.525" y2="328.5" stroke="#111" stroke-width="1.2"/>
<rect x="112.0" y="333.55" width="11.25" height="61.65" fill="#fb3b45"/>
<line x1="142.5" y1="364.5" x2="142.5" y2="366.3" stroke="#111" stroke-width="1.2"/>
<line x1="139.725" y1="364.5" x2="145.525" y2="364.5" stroke="#111" stroke-width="1.2"/>
<rect x="137" y="365.8" width="11.25" height="29.4" fill="#4a38fb"/>
<line x1="156.5" y1="353.5" x2="156.5" y2="356.3" stroke="#111" stroke-width="1.2"/>
<line x1="153.475" y1="353.5" x2="159.275" y2="353.5" stroke="#111" stroke-width="1.2"/>
<rect x="150.75" y="355.8" width="11.25" height="39.4" fill="#fb3b45"/>
<line x1="181.5" y1="364.5" x2="181.5" y2="366.3" stroke="#111" stroke-width="1.2"/>
<line x1="178.225" y1="364.5" x2="184.025" y2="364.5" stroke="#111" stroke-width="1.2"/>
<rect x="175.5" y="365.8" width="11.25" height="29.4" fill="#4a38fb"/>
<line x1="194.5" y1="337.5" x2="194.5" y2="342.8" stroke="#111" stroke-width="1.2"/>
<line x1="191.975" y1="337.5" x2="197.775" y2="337.5" stroke="#111" stroke-width="1.2"/>
<rect x="189.25" y="342.3" width="11.25" height="52.9" fill="#fb3b45"/>
<line x1="219.5" y1="363.5" x2="219.5" y2="366.3" stroke="#111" stroke-width="1.2"/>
<line x1="216.975" y1="363.5" x2="222.775" y2="363.5" stroke="#111" stroke-width="1.2"/>
<rect x="214.25" y="365.8" width="11.25" height="29.4" fill="#4a38fb"/>
<line x1="233.5" y1="359.5" x2="233.5" y2="361.05" stroke="#111" stroke-width="1.2"/>
<line x1="230.725" y1="359.5" x2="236.525" y2="359.5" stroke="#111" stroke-width="1.2"/>
<rect x="228.0" y="360.55" width="11.25" height="34.65" fill="#fb3b45"/>
<line x1="258.5" y1="364.5" x2="258.5" y2="366.3" stroke="#111" stroke-width="1.2"/>
<line x1="255.725" y1="364.5" x2="261.525" y2="364.5" stroke="#111" stroke-width="1.2"/>
<rect x="253" y="365.8" width="11.25" height="29.4" fill="#4a38fb"/>
<line x1="272.5" y1="365.5" x2="272.5" y2="370.3" stroke="#111" stroke-width="1.2"/>
<line x1="269.475" y1="365.5" x2="275.275" y2="365.5" stroke="#111" stroke-width="1.2"/>
<rect x="266.75" y="369.8" width="11.25" height="25.4" fill="#fb3b45"/>
<text x="119.2" y="331.2" font-size="16.2" letter-spacing="1.4" text-anchor="middle" font-family="Liberation Sans, sans-serif" style="stroke-width:0.1px">**</text>
<text x="156.95" y="356.2" font-size="16.2" letter-spacing="1.4" text-anchor="middle" font-family="Liberation Sans, sans-serif" style="stroke-width:0.1px">*</text>
<text x="196.1" y="340.0" font-size="16.2" letter-spacing="1.4" text-anchor="middle" font-family="Liberation Sans, sans-serif" style="stroke-width:0.1px">**</text>
<text x="233" y="355.75" font-size="11.6" text-anchor="middle">ns</text>
<text x="271.75" y="363.75" font-size="11.6" text-anchor="middle">ns</text>
<rect x="233.25" y="315.25" width="11.35" height="8.55" fill="#4a38fb"/>
<rect x="233.25" y="327.25" width="11.35" height="8.55" fill="#fb3b45"/>
<text x="251" y="323.4" font-size="11.7" text-anchor="start">EtOH</text>
<text x="250.7" y="335.4" font-size="11.6" text-anchor="start">4-OHT</text>
<text transform="translate(62.75,355) rotate(-90)" font-size="11.4" text-anchor="middle">Rel. gene expression</text>
<text x="110.6" y="412" font-size="11.6" text-anchor="middle">ATF4</text>
<text x="149.4" y="412" font-size="11.6" text-anchor="middle">Grp78</text>
<text x="188" y="412" font-size="11.6" text-anchor="middle">Chop</text>
<text x="226.5" y="412" font-size="11.6" text-anchor="middle">Bax</text>
<text x="265.25" y="412" font-size="11.6" text-anchor="middle">Bcl-2</text>
<line x1="406.65" y1="318.625" x2="406.65" y2="393.875" stroke="#111" stroke-width="1.25"/>
<line x1="406.025" y1="393.25" x2="546.25" y2="393.25" stroke="#111" stroke-width="1.25"/>
<line x1="402.45" y1="393.25" x2="406.65" y2="393.25" stroke="#111" stroke-width="1.25"/>
<text x="401.3" y="397.45" font-size="11.4" text-anchor="end">0.0</text>
<line x1="402.45" y1="368.58" x2="406.65" y2="368.58" stroke="#111" stroke-width="1.25"/>
<text x="401.3" y="372.78" font-size="11.4" text-anchor="end">0.5</text>
<line x1="402.45" y1="343.90999999999997" x2="406.65" y2="343.90999999999997" stroke="#111" stroke-width="1.25"/>
<text x="401.3" y="348.10999999999996" font-size="11.4" text-anchor="end">1.0</text>
<line x1="402.45" y1="319.24" x2="406.65" y2="319.24" stroke="#111" stroke-width="1.25"/>
<text x="401.3" y="323.44" font-size="11.4" text-anchor="end">1.5</text>
<line x1="428.75" y1="393.25" x2="428.75" y2="396.75" stroke="#111" stroke-width="1.1"/>
<line x1="476.25" y1="393.25" x2="476.25" y2="396.75" stroke="#111" stroke-width="1.1"/>
<line x1="523.75" y1="393.25" x2="523.75" y2="396.75" stroke="#111" stroke-width="1.1"/>
<line x1="420.5" y1="342.5" x2="420.5" y2="344.5" stroke="#111" stroke-width="1.2"/>
<line x1="416.325" y1="342.5" x2="423.925" y2="342.5" stroke="#111" stroke-width="1.2"/>
<rect x="413.25" y="344" width="13.75" height="49.25" fill="#4a38fb"/>
<line x1="437.5" y1="386.5" x2="437.5" y2="388.0" stroke="#111" stroke-width="1.2"/>
<line x1="433.575" y1="386.5" x2="441.175" y2="386.5" stroke="#111" stroke-width="1.2"/>
<rect x="430.5" y="387.5" width="13.75" height="5.75" fill="#fb3b45"/>
<line x1="467.5" y1="337.5" x2="467.5" y2="344.5" stroke="#111" stroke-width="1.2"/>
<line x1="463.825" y1="337.5" x2="471.425" y2="337.5" stroke="#111" stroke-width="1.2"/>
<rect x="460.75" y="344" width="13.75" height="49.25" fill="#4a38fb"/>
<line x1="484.5" y1="322.5" x2="484.5" y2="327.25" stroke="#111" stroke-width="1.2"/>
<line x1="481.075" y1="322.5" x2="488.675" y2="322.5" stroke="#111" stroke-width="1.2"/>
<rect x="478.0" y="326.75" width="13.75" height="66.5" fill="#fb3b45"/>
<line x1="515.5" y1="336.5" x2="515.5" y2="344.5" stroke="#111" stroke-width="1.2"/>
<line x1="511.325" y1="336.5" x2="518.925" y2="336.5" stroke="#111" stroke-width="1.2"/>
<rect x="508.25" y="344" width="13.75" height="49.25" fill="#4a38fb"/>
<line x1="532.5" y1="319.5" x2="532.5" y2="324.75" stroke="#111" stroke-width="1.2"/>
<line x1="528.575" y1="319.5" x2="536.175" y2="319.5" stroke="#111" stroke-width="1.2"/>
<rect x="525.5" y="324.25" width="13.75" height="69.0" fill="#fb3b45"/>
<text x="438.7" y="388.7" font-size="16.2" letter-spacing="1.4" text-anchor="middle" font-family="Liberation Sans, sans-serif" style="stroke-width:0.1px">***</text>
<text x="485.2" y="325.7" font-size="16.2" letter-spacing="1.4" text-anchor="middle" font-family="Liberation Sans, sans-serif" style="stroke-width:0.1px">*</text>
<text x="532.7" y="321.7" font-size="16.2" letter-spacing="1.4" text-anchor="middle" font-family="Liberation Sans, sans-serif" style="stroke-width:0.1px">*</text>
<rect x="546.8" y="313.1" width="11.2" height="8.65" fill="#4a38fb"/>
<rect x="546.8" y="325.25" width="11.2" height="8.55" fill="#fb3b45"/>
<text x="564.4" y="321.1" font-size="11.7" text-anchor="start">EtOH</text>
<text x="564.1" y="333.4" font-size="11.6" text-anchor="start">4-OHT</text>
<text transform="translate(377.75,354.25) rotate(-90)" font-size="11.5" text-anchor="middle">Rel. gene expression</text>
<text x="421.25" y="411.8" font-size="11.6" text-anchor="middle">CDK5RAP3</text>
<text x="476.5" y="411.8" font-size="11.6" text-anchor="middle">RPN1</text>
<text x="525.6" y="411.8" font-size="11.6" text-anchor="middle">ALG2</text>
</svg></body></html>
